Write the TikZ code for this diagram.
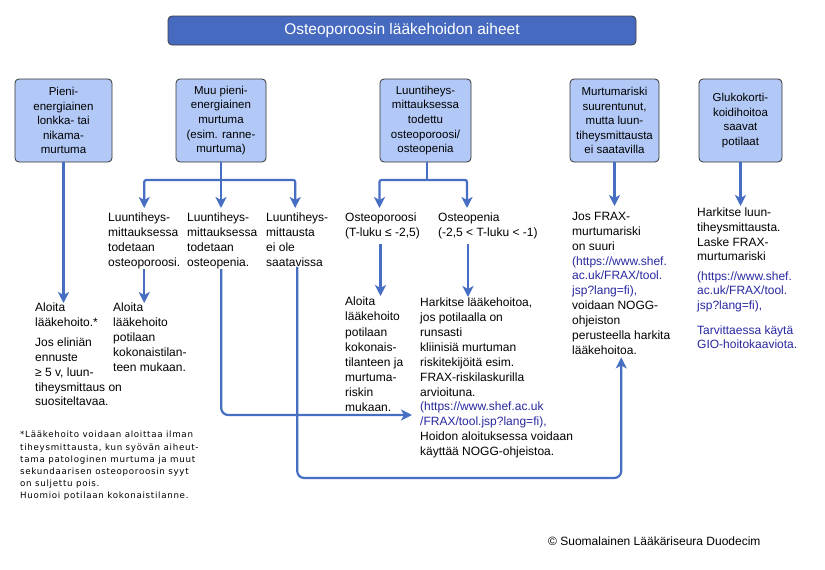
\documentclass[tikz,border=0pt]{standalone}
\usepackage{fontspec}
\setmainfont{Liberation Sans}
\newfontfamily\notefont[LetterSpace=8]{DejaVu Sans}
\usetikzlibrary{arrows.meta}
\definecolor{titleblue}{RGB}{70,106,192}
\definecolor{boxfill}{RGB}{178,201,247}
\definecolor{lineblue}{RGB}{70,110,195}
\definecolor{link}{RGB}{40,40,160}
\tikzset{
  ttl/.style={draw=black!75, fill=titleblue, rounded corners=4pt, line width=0.8pt, text=white, font=\fontsize{15.5}{18}\selectfont, inner sep=0},
  bx/.style={draw=black!80, fill=boxfill, rounded corners=4pt, line width=0.8pt, align=center, font=\fontsize{11.5}{14.6}\selectfont, inner sep=0, minimum height=83pt},
  txt/.style={align=left, anchor=north west, inner sep=0, font=\fontsize{12}{14.85}\selectfont},
  note/.style={align=left, anchor=north west, inner sep=0, font=\notefont\fontsize{8.7}{12.2}\selectfont},
  ln/.style={draw=lineblue, line width=2.2pt},
  arr/.style={ln, -{Stealth[length=11pt,width=11pt,inset=3pt]}}
}
\begin{document}
\begin{tikzpicture}[x=1pt,y=-1pt]
\useasboundingbox[fill=white] (0,0) rectangle (825,570);
% title
\node[ttl, minimum width=468pt, minimum height=29pt] (title) at (402,30.5) {Osteoporoosin lääkehoidon aiheet};
% boxes
\node[bx, minimum width=97pt] (b1) at (63.5,120.5) {Pieni-\\energiainen\\lonkka- tai\\nikama-\\murtuma};
\node[bx, minimum width=90pt] (b2) at (221,120.5) {Muu pieni-\\energiainen\\murtuma\\(esim. ranne-\\murtuma)};
\node[bx, minimum width=91pt] (b3) at (425.5,120.5) {Luuntiheys-\\mittauksessa\\todettu\\osteoporoosi/\\osteopenia};
\node[bx, minimum width=89pt] (b4) at (614.5,120.5) {Murtumariski\\suurentunut,\\mutta luun-\\tiheysmittausta\\ei saatavilla};
\node[bx, minimum width=83pt] (b5) at (740.5,120.5) {Glukokorti-\\koidihoitoa\\saavat\\potilaat};
% middle texts
\node[txt] (m1) at (108,213) {Luuntiheys-\\mittauksessa\\todetaan\\osteoporoosi.};
\node[txt] (m2) at (187,213) {Luuntiheys-\\mittauksessa\\todetaan\\osteopenia.};
\node[txt] (m3) at (266,213) {Luuntiheys-\\mittausta\\ei ole\\saatavissa};
\node[txt] (o1) at (345,213) {Osteoporoosi\\(T-luku ≤ -2,5)};
\node[txt] (o2) at (438,213) {Osteopenia\\(-2,5 < T-luku < -1)};
% lower texts
\node[txt] (t1) at (35,303) {Aloita\\lääkehoito.*\\[5pt]Jos eliniän\\ennuste\\≥ 5 v, luun-\\tiheysmittaus on\\suositeltavaa.};
\node[txt] (q2) at (113,303) {Aloita\\lääkehoito\\potilaan\\kokonaistilan-\\teen mukaan.};
\node[txt, font=\fontsize{12}{15.1}\selectfont] (p1) at (345,297) {Aloita\\lääkehoito\\potilaan\\kokonais-\\tilanteen ja\\murtuma-\\riskin\\mukaan.};
\node[txt] (p2) at (420,298) {Harkitse lääkehoitoa,\\jos potilaalla on\\runsasti\\kliinisiä murtuman\\riskitekijöitä esim.\\FRAX-riskilaskurilla\\arvioituna.\\\textcolor{link}{(https://www.shef.ac.uk}\\\textcolor{link}{/FRAX/tool.jsp?lang=fi),}\\Hoidon aloituksessa voidaan\\käyttää NOGG-ohjeistoa.};
\node[txt] (r1) at (572,212) {Jos FRAX-\\murtumariski\\on suuri\\\textcolor{link}{(https://www.shef.}\\\textcolor{link}{ac.uk/FRAX/tool.}\\\textcolor{link}{jsp?lang=fi),}\\voidaan NOGG-\\ohjeiston\\perusteella harkita\\lääkehoitoa.};
\node[txt, font=\fontsize{12}{14.6}\selectfont] (s1) at (697,208) {Harkitse luun-\\tiheysmittausta.\\Laske FRAX-\\murtumariski\\[5pt]\textcolor{link}{(https://www.shef.}\\\textcolor{link}{ac.uk/FRAX/tool.}\\\textcolor{link}{jsp?lang=fi),}\\[10pt]\textcolor{link}{Tarvittaessa käytä}\\\textcolor{link}{GIO-hoitokaaviota.}};
% footnote and copyright
\node[note] (fn) at (20,431) {*Lääkehoito voidaan aloittaa ilman\\tiheysmittausta, kun syövän aiheut-\\tama patologinen murtuma ja muut\\sekundaarisen osteoporoosin syyt\\on suljettu pois.\\Huomioi potilaan kokonaistilanne.};
\node[anchor=west, inner sep=0, font=\fontsize{12}{14}\selectfont] (copy) at (548,541) {© Suomalainen Lääkäriseura Duodecim};
% connectors
\coordinate (h2) at (221,180);
\coordinate (h3) at (427,180);
\coordinate (a1) at (412,415);
\coordinate (low) at (0,478);
\draw[arr] (b1.south) -- (b1.south |- t1.north);
\draw[ln] (b2.south) -- (h2);
\draw[arr, rounded corners=2pt, shorten >=5pt] (h2) -| (m1.north);
\draw[arr, shorten >=5pt] (h2) -- (h2 |- m2.north);
\draw[arr, rounded corners=2pt, shorten >=5pt] (h2) -| ([xshift=-2pt]m3.north);
\draw[ln] (b3.south -| h3) -- (h3);
\draw[arr, rounded corners=2pt, shorten >=5pt] (h3) -| ([xshift=-3pt]o1.north);
\draw[arr, rounded corners=2pt, shorten >=5pt] (h3) -| ([xshift=29pt]o2.north west);
\draw[arr, shorten <=5pt, shorten >=1pt] ([xshift=-2pt]o1.south) -- ([xshift=-2pt]o1.south |- p1.north);
\draw[arr, shorten <=5pt, shorten >=1pt] ([xshift=30pt]o2.south west) -- ([xshift=30pt]o2.south west |- p2.north);
\draw[arr] (m1.south) -- (m1.south |- q2.north);
\draw[arr, shorten >=6pt] (b4.south) -- (b4.south |- r1.north);
\draw[arr, shorten >=2pt] (b5.south) -- (b5.south |- s1.north);
\draw[arr, rounded corners=7pt] ([xshift=-1pt]m2.south) |- (a1);
\draw[arr, rounded corners=7pt, shorten >=3pt] (m3.south) |- (low -| r1.south) -- (r1.south);
\end{tikzpicture}
\end{document}
